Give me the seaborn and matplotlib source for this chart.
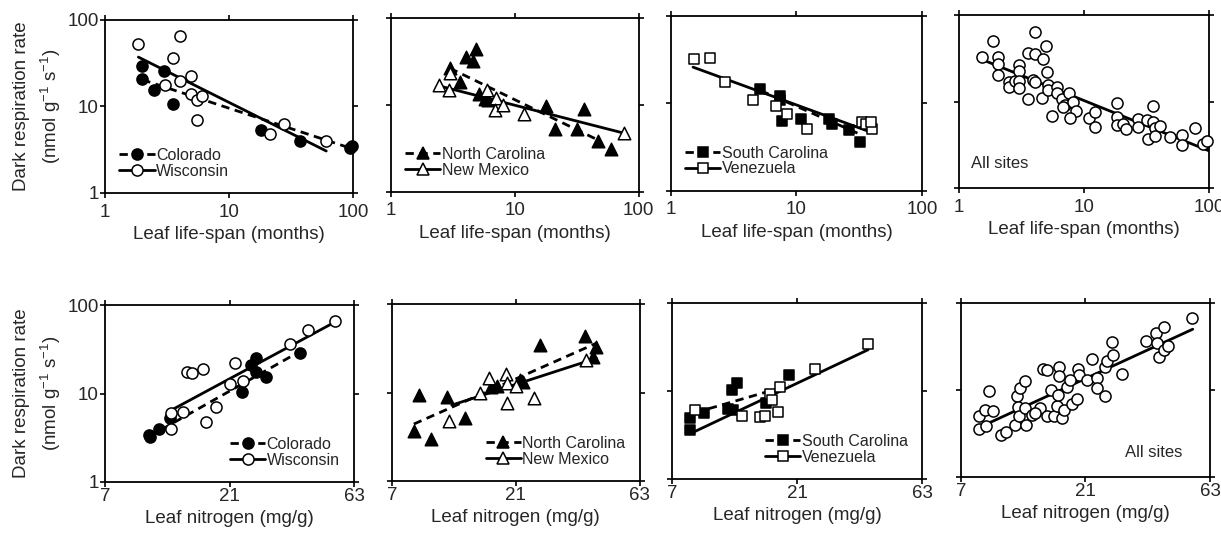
"""Dark respiration rate vs leaf life-span and leaf nitrogen, by site (log-log panels)."""

import matplotlib

matplotlib.use("Agg")
import matplotlib.pyplot as plt
import seaborn as sns
from matplotlib.lines import Line2D
from matplotlib.ticker import NullLocator

# ---------------------------------------------------------------------------
# Data: top row = leaf life-span (months)
# ---------------------------------------------------------------------------
colorado_ls_x = [1.98, 1.98, 2.47, 2.97, 3.51, 18.3, 37.4, 94.0, 98.0]
colorado_ls_y = [29.0, 20.9, 15.6, 25.3, 10.5, 5.3, 4.0, 3.3, 3.5]
wisconsin_ls_x = [1.86, 4.06, 3.51, 4.06, 3.03, 4.98, 4.98, 5.53, 6.08, 5.53, 21.5, 27.6, 60.8]
wisconsin_ls_y = [52.4, 65.3, 36.1, 19.4, 17.8, 22.2, 14.0, 11.9, 13.0, 7.0, 4.8, 6.25, 4.0]
colorado_ls_fit_x = [2.0, 95.0]
colorado_ls_fit_y = [20.3, 3.3]
wisconsin_ls_fit_x = [1.86, 61.0]
wisconsin_ls_fit_y = [37.0, 3.05]

ncarolina_ls_x = [3.0, 4.04, 4.57, 4.86, 3.61, 5.17, 5.74, 6.1, 18.0, 21.0, 36.1, 31.9, 46.8, 59.9]
ncarolina_ls_y = [26.9, 35.9, 32.0, 43.6, 18.4, 13.3, 11.8, 11.5, 9.7, 5.25, 9.1, 5.35, 3.86, 3.09]
newmexico_ls_x = [2.46, 3.0, 2.98, 6.03, 7.03, 6.9, 8.06, 12.0, 76.7]
newmexico_ls_y = [16.8, 23.1, 14.9, 14.9, 12.1, 8.8, 9.9, 7.8, 4.81]
ncarolina_ls_fit_x = [3.0, 48.0]
ncarolina_ls_fit_y = [26.5, 3.9]
newmexico_ls_fit_x = [2.5, 78.0]
newmexico_ls_fit_y = [16.5, 4.7]

scarolina_ls_x = [5.16, 7.45, 7.45, 7.69, 10.8, 18.1, 19.3, 26.2, 32.0]
scarolina_ls_y = [14.7, 12.3, 10.8, 6.29, 6.69, 6.69, 5.86, 4.92, 3.62]
venezuela_ls_x = [1.52, 2.04, 2.71, 4.51, 6.92, 8.43, 12.2, 33.4, 35.5, 40.2, 38.9]
venezuela_ls_y = [32.3, 32.9, 17.8, 10.8, 9.25, 7.62, 5.14, 6.12, 5.76, 5.14, 6.07]
scarolina_ls_fit_x = [5.2, 31.4]
scarolina_ls_fit_y = [14.0, 4.5]
venezuela_ls_fit_x = [1.5, 39.0]
venezuela_ls_fit_y = [26.0, 4.7]

allsites_ls_x = [1.52, 1.86, 2.04, 2.04, 2.04, 2.51, 2.51, 2.81, 3.04, 3.04, 3.04, 3.04,
                 3.59, 3.59, 3.88, 4.06, 4.06, 4.06, 4.67, 4.93, 5.09, 4.58, 5.18, 5.18,
                 6.04, 6.04, 6.62, 7.05, 7.63, 8.22, 8.63, 7.73, 5.58, 11.0, 12.2, 12.2,
                 18.2, 18.2, 18.2, 20.6, 21.5, 27.2, 27.2, 32.1, 32.7, 35.9, 35.9, 37.0,
                 37.0, 40.5, 48.8, 60.4, 60.4, 77.3, 90.1, 95.8, 6.83]
allsites_ls_y = [32.5, 50.6, 33.0, 27.2, 20.3, 17.0, 14.9, 17.5, 26.5, 22.8, 17.5, 14.3,
                 36.1, 10.6, 17.8, 63.1, 35.2, 17.0, 30.8, 44.3, 22.2, 10.9, 15.6, 13.6,
                 14.6, 12.5, 10.6, 9.15, 12.5, 10.0, 7.87, 6.42, 6.83, 6.42, 7.67, 5.15,
                 9.74, 6.6, 5.38, 5.52, 4.8, 6.25, 5.06, 6.14, 3.67, 8.91, 5.88, 4.92,
                 4.02, 5.24, 3.88, 4.12, 3.16, 4.92, 3.25, 3.55, 8.75]
allsites_ls_fit_x = [1.5, 100.0]
allsites_ls_fit_y = [31.0, 2.7]

# ---------------------------------------------------------------------------
# Bottom row = leaf nitrogen (mg/g)
# ---------------------------------------------------------------------------
colorado_n_x = [10.3, 10.4, 11.3, 12.4, 23.5, 25.4, 26.6, 26.6, 29.0, 39.2]
colorado_n_y = [3.4, 3.2, 3.98, 5.24, 10.5, 20.9, 24.9, 17.5, 15.3, 28.9]
wisconsin_n_x = [12.5, 12.5, 13.9, 14.4, 15.1, 16.6, 17.1, 18.6, 21.0, 22.1, 23.7, 35.8, 41.8, 53.3]
wisconsin_n_y = [5.97, 3.98, 6.19, 17.5, 17.0, 19.1, 4.8, 7.13, 12.9, 22.4, 14.0, 36.3, 52.6, 65.5]
colorado_n_fit_x = [10.4, 38.9]
colorado_n_fit_y = [3.3, 29.7]
wisconsin_n_fit_x = [12.4, 53.3]
wisconsin_n_fit_y = [6.35, 64.4]

ncarolina_n_x = [8.91, 8.53, 9.88, 11.4, 13.4, 16.9, 17.7, 21.8, 22.4, 26.0, 38.7, 42.6, 41.7]
ncarolina_n_y = [9.37, 3.69, 2.97, 8.81, 5.09, 11.5, 11.9, 13.9, 13.3, 34.6, 43.0, 32.5, 25.5]
newmexico_n_x = [11.6, 15.3, 16.5, 19.3, 19.4, 19.4, 21.0, 24.6, 39.2]
newmexico_n_y = [4.8, 9.8, 14.5, 16.2, 12.7, 7.67, 11.9, 8.59, 23.0]
ncarolina_n_fit_x = [8.5, 42.9]
ncarolina_n_fit_y = [4.4, 36.1]
newmexico_n_fit_x = [11.9, 42.9]
newmexico_n_fit_y = [7.2, 24.4]

scarolina_n_x = [8.18, 8.18, 9.26, 11.4, 11.9, 12.4, 12.0, 16.0, 19.6]
scarolina_n_y = [4.93, 3.57, 5.62, 6.24, 10.2, 12.3, 6.14, 7.31, 15.3]
venezuela_n_x = [8.6, 13.0, 15.1, 15.8, 16.5, 16.9, 17.8, 18.0, 24.6, 39.2]
venezuela_n_y = [6.03, 5.15, 5.07, 5.15, 9.33, 7.83, 5.72, 11.1, 17.9, 34.5]
scarolina_n_fit_x = [8.6, 19.6]
scarolina_n_fit_y = [5.7, 11.6]
venezuela_n_fit_x = [8.2, 39.2]
venezuela_n_fit_y = [3.27, 29.5]

allsites_n_x = [8.18, 8.18, 8.67, 8.75, 9.28, 8.93, 10.0, 10.4, 11.3, 11.5, 11.8, 12.3,
                11.6, 11.7, 12.3, 12.4, 13.1, 14.0, 14.4, 15.0, 15.0, 15.5, 15.9, 16.3,
                16.6, 16.6, 16.5, 17.0, 17.4, 17.9, 18.6, 19.5, 19.6, 19.8, 21.3, 22.2,
                23.3, 23.3, 25.0, 25.0, 25.3, 26.5, 26.7, 28.9, 35.8, 39.2, 39.4, 40.0,
                41.8, 42.0, 43.3, 53.6, 18.4, 13.5]
allsites_n_y = [4.98, 3.56, 5.94, 3.82, 5.69, 9.66, 3.07, 3.26, 4.0, 8.61, 10.5, 12.6,
                6.38, 4.98, 6.21, 4.0, 5.2, 6.21, 17.4, 17.1, 4.98, 9.91, 5.07, 6.61,
                18.7, 14.6, 8.84, 4.77, 5.94, 11.0, 6.97, 7.88, 17.4, 15.0, 13.1, 22.7,
                13.7, 10.5, 8.61, 18.7, 21.4, 36.3, 25.5, 15.4, 37.2, 46.0, 35.3, 23.9,
                29.1, 53.0, 32.3, 67.2, 13.1, 5.44]
allsites_n_fit_x = [8.67, 54.1]
allsites_n_fit_y = [4.0, 50.3]

LS_TICKS = [1, 10, 100]
LS_TICK_LABELS = ["1", "10", "100"]
N_TICKS = [7, 21, 63]
N_TICK_LABELS = ["7", "21", "63"]
Y_TICKS = [1, 10, 100]
Y_TICK_LABELS = ["1", "10", "100"]

MARKER_SIZE = {"o": 8.0, "^": 9.0, "s": 7.5}
DASH = (0, (3, 2))


def draw_series(ax, x, y, fit_x, fit_y, marker, filled, dashed):
    """Trace la droite ajustee puis les points d'une serie."""
    sns.lineplot(x=fit_x, y=fit_y, ax=ax, color="black", linewidth=2.0,
                 linestyle=DASH if dashed else "-", zorder=2)
    size = MARKER_SIZE[marker]
    sns.scatterplot(x=x, y=y, ax=ax, marker=marker, s=size ** 2,
                    color="black" if filled else "white", edgecolor="black",
                    linewidth=1.1, zorder=3, clip_on=False)


def legend_handle(marker, filled, dashed):
    return Line2D([], [], color="black", linewidth=2.0,
                  linestyle=DASH if dashed else "-", marker=marker,
                  markersize=MARKER_SIZE[marker],
                  markerfacecolor="black" if filled else "white",
                  markeredgecolor="black", markeredgewidth=1.1)


def style_axes(ax, row, first_col):
    ax.set_xscale("log")
    ax.set_yscale("log")
    if row == 0:
        ax.set_xlim(1, 100)
        ax.set_xticks(LS_TICKS, labels=LS_TICK_LABELS)
        ax.set_xlabel("Leaf life-span (months)", fontsize=13.5, labelpad=4)
        ax.tick_params(axis="x", pad=4)
    else:
        ax.set_xlim(7, 63)
        ax.set_xticks(N_TICKS, labels=N_TICK_LABELS)
        ax.set_xlabel("Leaf nitrogen (mg/g)", fontsize=13.5, labelpad=3)
        ax.tick_params(axis="x", pad=1)
    ax.set_ylim(1, 100)
    ax.set_yticks(Y_TICKS, labels=Y_TICK_LABELS if first_col else [])
    ax.xaxis.set_minor_locator(NullLocator())
    ax.yaxis.set_minor_locator(NullLocator())
    ax.tick_params(which="both", direction="out", top=True, right=True,
                   length=3.6, width=1.2, labelsize=13.5, color="black")
    ax.tick_params(axis="y", pad=1)
    for spine in ax.spines.values():
        spine.set_visible(True)
        spine.set_linewidth(1.3)
        spine.set_color("black")
    if first_col:
        ax.set_ylabel("Dark respiration rate\n(nmol g$^{-1}$ s$^{-1}$)",
                      fontsize=13.5, labelpad=3, linespacing=1.5)
    else:
        ax.set_ylabel("")


def main():
    sns.set_style("ticks")
    plt.rcParams["font.family"] = ["Liberation Sans", "DejaVu Sans"]
    plt.rcParams["mathtext.fontset"] = "custom"
    plt.rcParams["mathtext.rm"] = "Liberation Sans"
    plt.rcParams["mathtext.it"] = "Liberation Sans:italic"
    plt.rcParams["mathtext.bf"] = "Liberation Sans:bold"

    fig = plt.figure(figsize=(12.21, 5.33), dpi=100)
    rects = [
        [0.086, 0.638, 0.203, 0.325], [0.320, 0.640, 0.203, 0.326],
        [0.5495, 0.642, 0.2056, 0.328], [0.7854, 0.647, 0.2048, 0.3246],
        [0.086, 0.0957, 0.204, 0.332], [0.321, 0.0976, 0.203, 0.332],
        [0.5504, 0.1013, 0.2048, 0.330], [0.787, 0.105, 0.204, 0.326],
    ]
    axes = [fig.add_axes(r) for r in rects]

    panels = [
        [("Colorado", colorado_ls_x, colorado_ls_y, colorado_ls_fit_x, colorado_ls_fit_y, "o", True, True),
         ("Wisconsin", wisconsin_ls_x, wisconsin_ls_y, wisconsin_ls_fit_x, wisconsin_ls_fit_y, "o", False, False)],
        [("North Carolina", ncarolina_ls_x, ncarolina_ls_y, ncarolina_ls_fit_x, ncarolina_ls_fit_y, "^", True, True),
         ("New Mexico", newmexico_ls_x, newmexico_ls_y, newmexico_ls_fit_x, newmexico_ls_fit_y, "^", False, False)],
        [("South Carolina", scarolina_ls_x, scarolina_ls_y, scarolina_ls_fit_x, scarolina_ls_fit_y, "s", True, True),
         ("Venezuela", venezuela_ls_x, venezuela_ls_y, venezuela_ls_fit_x, venezuela_ls_fit_y, "s", False, False)],
        [(None, allsites_ls_x, allsites_ls_y, allsites_ls_fit_x, allsites_ls_fit_y, "o", False, False)],
        [("Colorado", colorado_n_x, colorado_n_y, colorado_n_fit_x, colorado_n_fit_y, "o", True, True),
         ("Wisconsin", wisconsin_n_x, wisconsin_n_y, wisconsin_n_fit_x, wisconsin_n_fit_y, "o", False, False)],
        [("North Carolina", ncarolina_n_x, ncarolina_n_y, ncarolina_n_fit_x, ncarolina_n_fit_y, "^", True, True),
         ("New Mexico", newmexico_n_x, newmexico_n_y, newmexico_n_fit_x, newmexico_n_fit_y, "^", False, False)],
        [("South Carolina", scarolina_n_x, scarolina_n_y, scarolina_n_fit_x, scarolina_n_fit_y, "s", True, True),
         ("Venezuela", venezuela_n_x, venezuela_n_y, venezuela_n_fit_x, venezuela_n_fit_y, "s", False, False)],
        [(None, allsites_n_x, allsites_n_y, allsites_n_fit_x, allsites_n_fit_y, "o", False, False)],
    ]

    for i, (ax, series) in enumerate(zip(axes, panels)):
        row, col = divmod(i, 4)
        style_axes(ax, row, col == 0)
        handles, labels = [], []
        for label, x, y, fx, fy, marker, filled, dashed in series:
            draw_series(ax, x, y, fx, fy, marker, filled, dashed)
            if label:
                handles.append(legend_handle(marker, filled, dashed))
                labels.append(label)
        if handles:
            ax.legend(handles, labels, loc="lower left" if row == 0 else "lower right",
                      frameon=False, fontsize=11.5, handlelength=2.2,
                      handletextpad=0.1, labelspacing=0.05)
        elif row == 0:
            ax.text(0.05, 0.14, "All sites", transform=ax.transAxes, fontsize=12,
                    ha="left", va="center")
        else:
            ax.text(0.89, 0.14, "All sites", transform=ax.transAxes, fontsize=12,
                    ha="right", va="center")

    fig.savefig("out.png", dpi=100)
    plt.close(fig)


if __name__ == "__main__":
    main()
